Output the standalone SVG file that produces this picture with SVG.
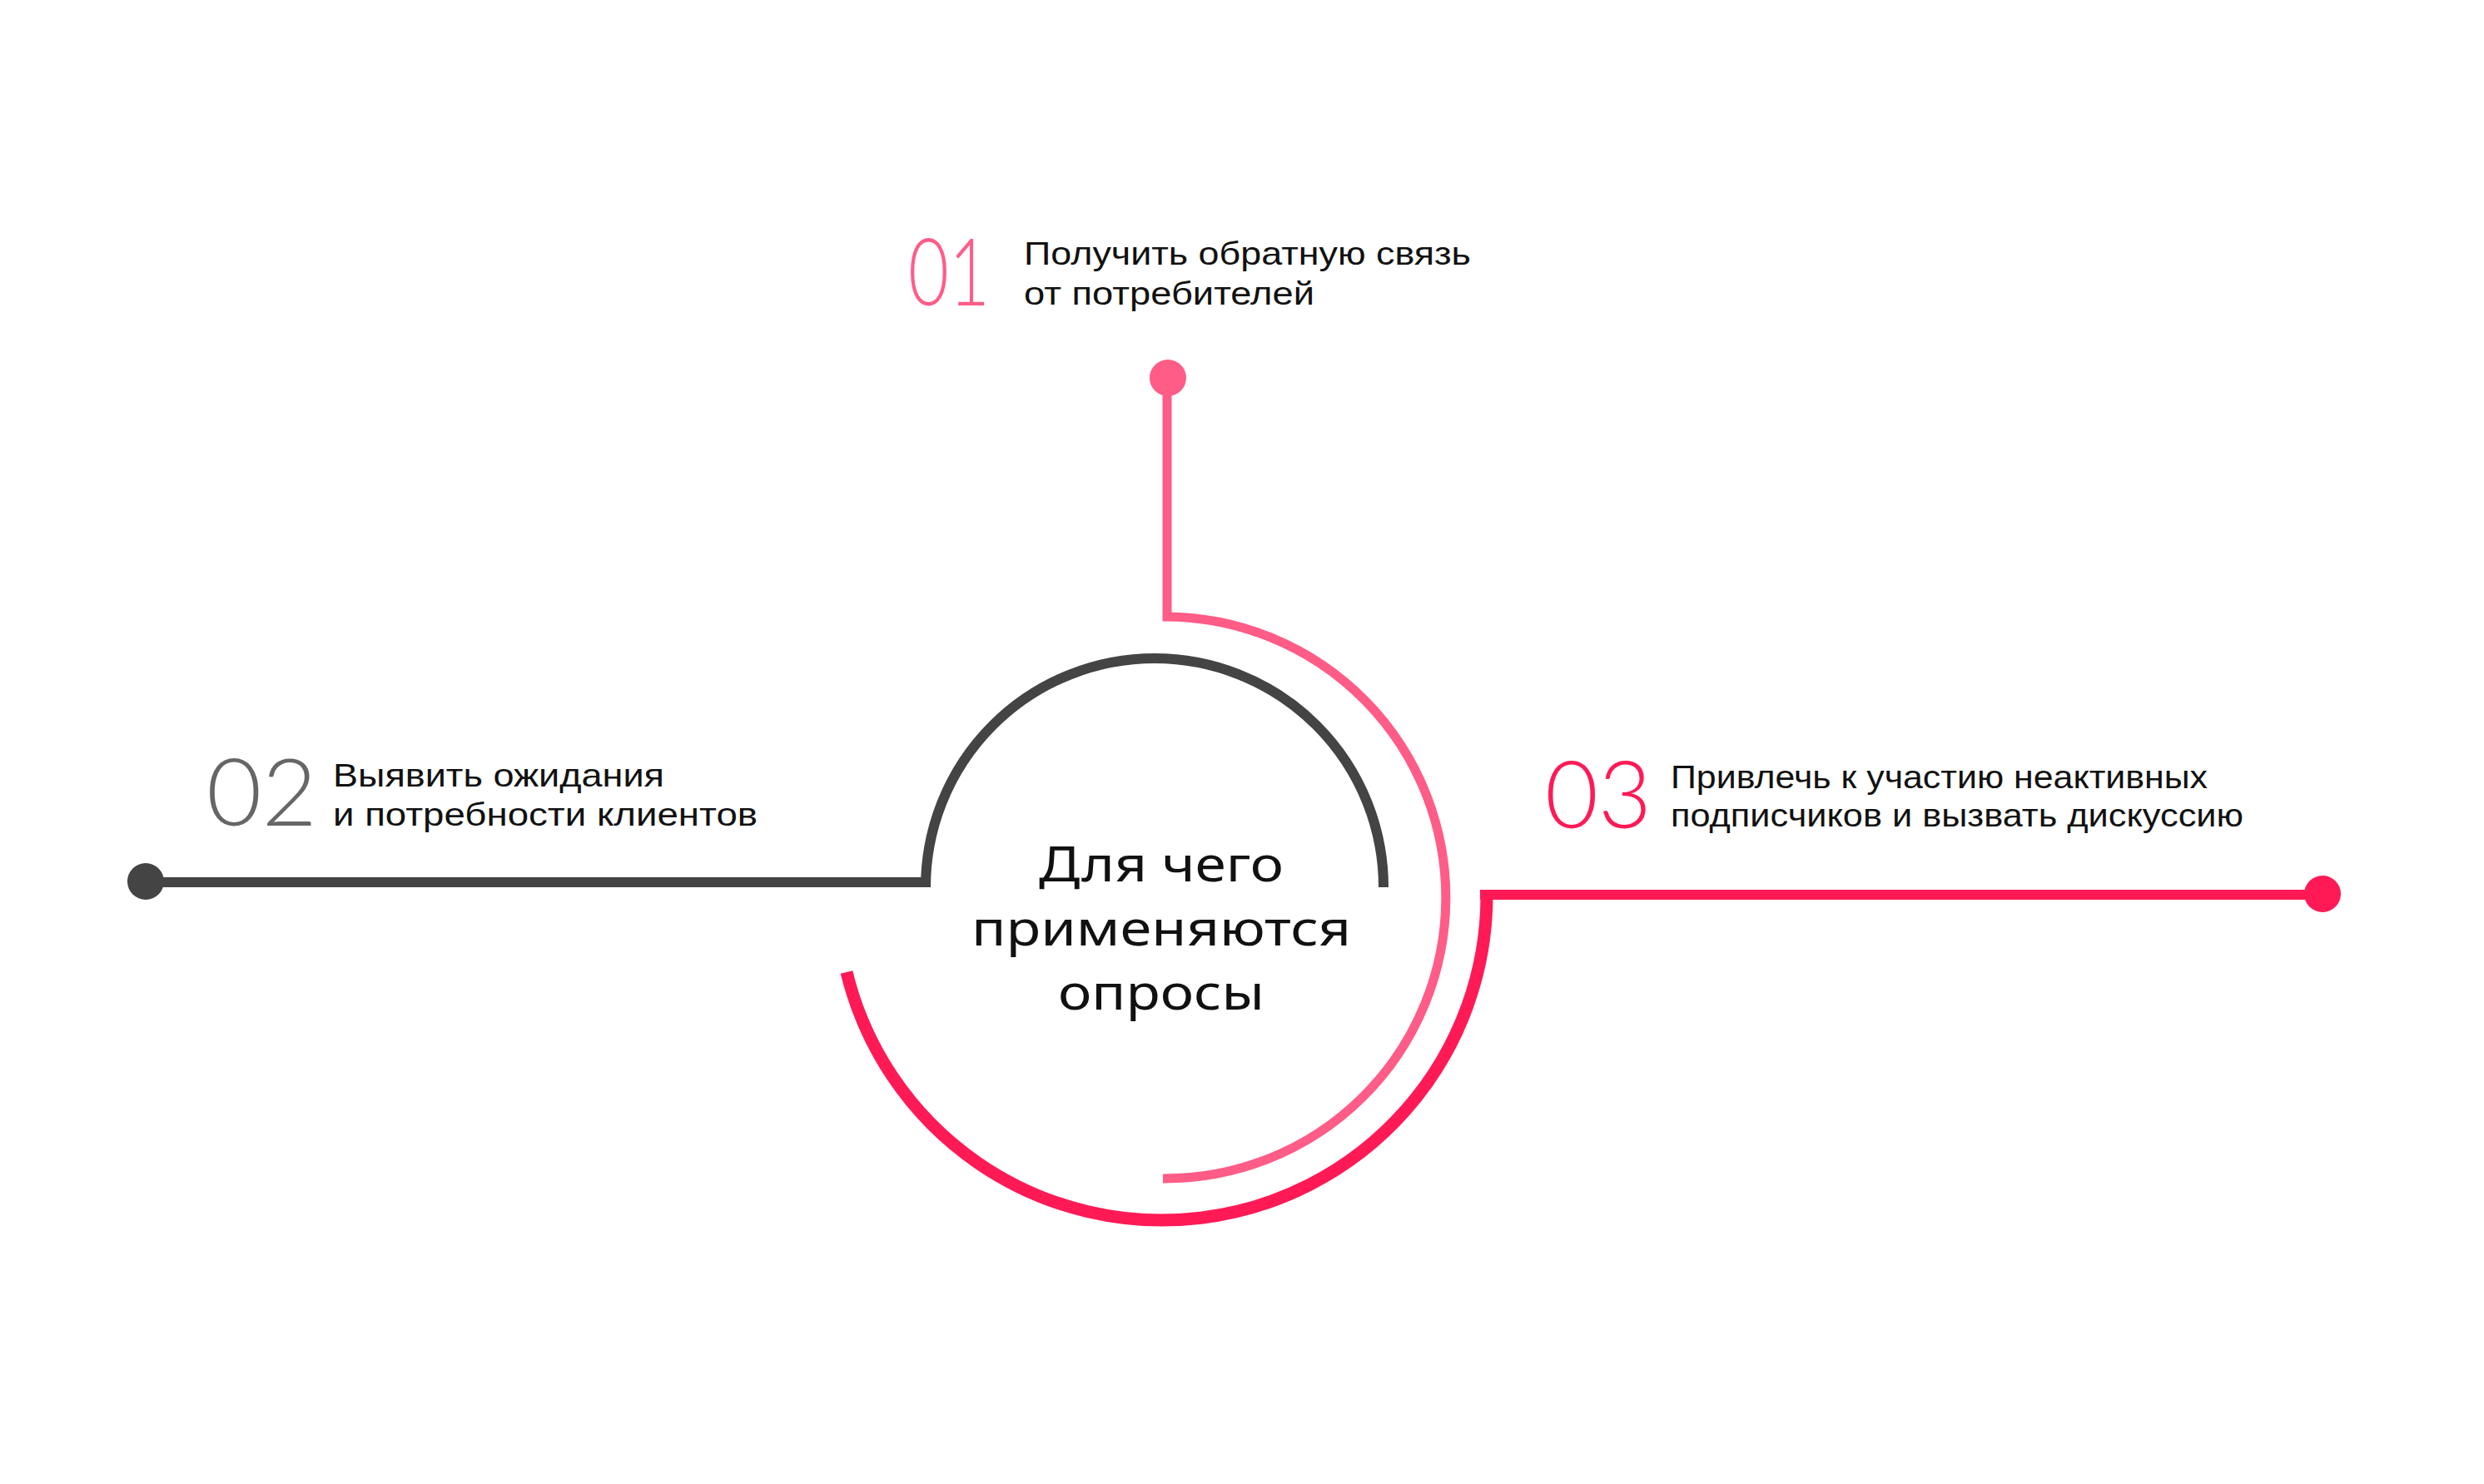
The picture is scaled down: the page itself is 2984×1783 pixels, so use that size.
<svg xmlns="http://www.w3.org/2000/svg" width="2984" height="1783" viewBox="0 0 2984 1783">
<style>
.t{font-family:"Liberation Sans","Noto Sans",sans-serif;font-size:39px;fill:#111111}
.c{font-family:"Noto Sans","Open Sans","DejaVu Sans",sans-serif;font-size:59px;fill:#111111;text-anchor:middle}
.n{font-family:Lato,"Noto Sans",sans-serif;font-weight:300;font-size:112px}
.ln{fill:none;stroke-linecap:butt;stroke-linejoin:miter}
</style>
<rect width="2984" height="1783" fill="#ffffff"/>
<g id="connectors">
<path class="ln" d="M1402 454 V741 A337 337 0 0 1 1397 1416" stroke="#FF5C87" stroke-width="11"/>
<path class="ln" d="M175 1060 H1112 V1066 A275 275 0 0 1 1662 1066" stroke="#444444" stroke-width="12"/>
<path class="ln" d="M1017 1168 A390 390 0 0 0 1786 1075" stroke="#FF1A56" stroke-width="15"/>
<path class="ln" d="M1778 1075 H2790" stroke="#FF1A56" stroke-width="12"/>
</g>
<g id="node-01">
<circle cx="1403" cy="454" r="22" fill="#FF5C87"/>
<text class="n" x="1091" y="367" fill="#FF5C87" textLength="98" lengthAdjust="spacingAndGlyphs">01</text>
<text class="t" x="1230" y="318" textLength="537" lengthAdjust="spacingAndGlyphs">Получить обратную связь</text>
<text class="t" x="1230" y="366" textLength="349" lengthAdjust="spacingAndGlyphs">от потребителей</text>
</g>
<g id="node-02">
<circle cx="175" cy="1059" r="22" fill="#444444"/>
<text class="n" x="248" y="992" fill="#666666" textLength="133" lengthAdjust="spacingAndGlyphs">02</text>
<text class="t" x="400" y="945" textLength="398" lengthAdjust="spacingAndGlyphs">Выявить ожидания</text>
<text class="t" x="400" y="992" textLength="510" lengthAdjust="spacingAndGlyphs">и потребности клиентов</text>
</g>
<g id="node-03">
<circle cx="2790" cy="1074" r="22" fill="#FF1A56"/>
<text class="n" x="1856" y="995" fill="#FF1A56" textLength="128" lengthAdjust="spacingAndGlyphs">03</text>
<text class="t" x="2007" y="947" textLength="645" lengthAdjust="spacingAndGlyphs">Привлечь к участию неактивных</text>
<text class="t" x="2007" y="993" textLength="688" lengthAdjust="spacingAndGlyphs">подписчиков и вызвать дискуссию</text>
</g>
<g id="center">
<text class="c" x="1395" y="1059" textLength="294" lengthAdjust="spacingAndGlyphs">Для чего</text>
<text class="c" x="1395" y="1136" textLength="456" lengthAdjust="spacingAndGlyphs">применяются</text>
<text class="c" x="1395" y="1213" textLength="248" lengthAdjust="spacingAndGlyphs">опросы</text>
</g>
</svg>
